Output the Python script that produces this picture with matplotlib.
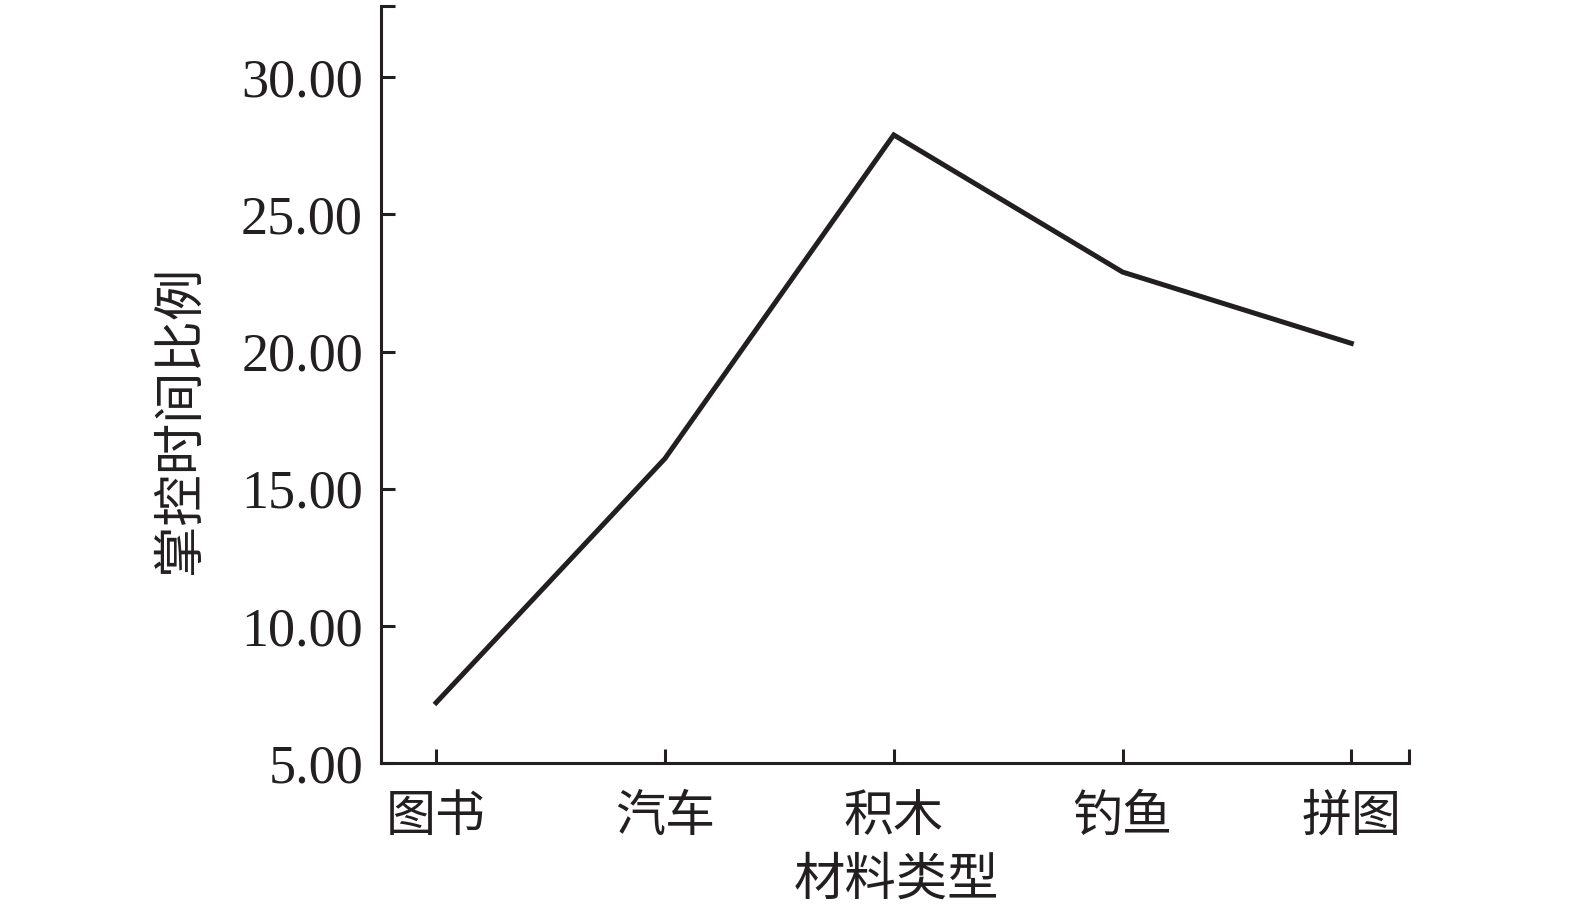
"""Line chart of control-time ratio by material type"""
import matplotlib
matplotlib.use("Agg")
import matplotlib.pyplot as plt

materials = ['图书', '汽车', '积木', '钓鱼', '拼图']
ratio = [7.2, 16.1, 27.9, 22.9, 20.3]
y_ticks = [5, 10, 15, 20, 25, 30]
y_top = 32.6
x_left, x_right = -0.241, 4.252

ink = '#231f20'
cjk = ['Noto Sans CJK SC', 'DejaVu Sans']
serif = ['Liberation Serif', 'DejaVu Serif']

fig = plt.figure(figsize=(15.75, 9.15), dpi=100)
ax = fig.add_axes([381 / 1575, 1 - 763 / 915, (1409 - 381) / 1575, (763 - 6) / 915])

xs = list(range(len(materials)))
ax.plot(xs, ratio, color=ink, linewidth=3.6, solid_joinstyle='miter')

ax.set_xlim(x_left, x_right)
ax.set_ylim(y_ticks[0], y_top)

ax.set_xticks(xs + [x_right])
ax.set_xticklabels(materials + [''], fontfamily=cjk, fontsize=36)
ax.set_yticks(y_ticks + [y_top])
ax.set_yticklabels([f'{v:.2f}' for v in y_ticks] + [''], fontfamily=serif, fontsize=39)

ax.tick_params(axis='both', direction='in', length=10, width=2.2, color=ink, labelcolor=ink)
ax.tick_params(axis='x', pad=20)
ax.tick_params(axis='y', pad=13)

for side in ['top', 'right']:
    ax.spines[side].set_visible(False)
for side in ['left', 'bottom']:
    ax.spines[side].set_color(ink)
    ax.spines[side].set_linewidth(2.2)

ax.set_xlabel('材料类型', fontfamily=cjk, fontsize=37, color=ink, va='center')
ax.xaxis.set_label_coords(0.501, -0.154)
ax.set_ylabel('掌控时间比例', fontfamily=cjk, fontsize=37, color=ink, va='center')
ax.yaxis.set_label_coords(-0.1955, 0.453)

fig.savefig('out.png', dpi=100)
